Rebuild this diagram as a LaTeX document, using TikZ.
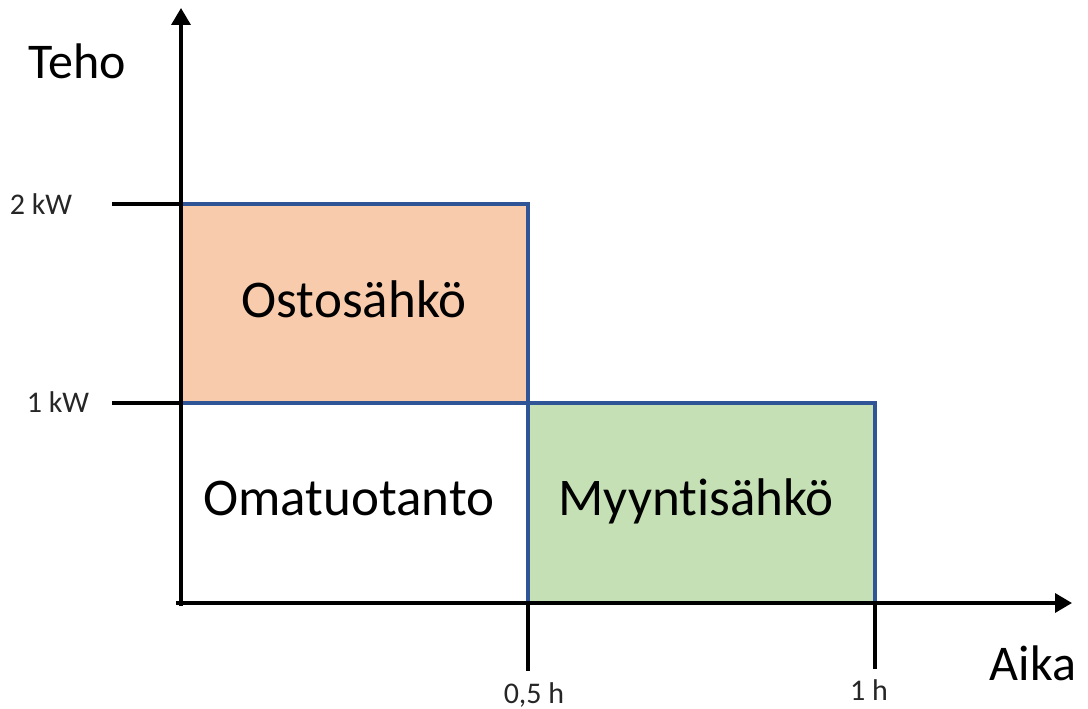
\documentclass[tikz,border=0pt]{standalone}
\usepackage{fontspec}
\setmainfont{Carlito}[Ligatures={NoCommon,NoContextual}]
\usetikzlibrary{arrows.meta}
\definecolor{boxblue}{HTML}{2F5597}
\definecolor{buyfill}{HTML}{F8CBAD}
\definecolor{sellfill}{HTML}{C5E0B4}
\tikzset{
  box/.style={draw=boxblue, line width=3.5pt},
  axis/.style={draw=black, line width=3.5pt, -{Triangle[length=17pt,width=19pt]}},
  tick/.style={draw=black, line width=3.5pt},
  big/.style={inner sep=0pt, anchor=base, font=\fontsize{53}{60}\selectfont},
  axlabel/.style={inner sep=0pt, anchor=base, font=\fontsize{50}{58}\selectfont},
  small/.style={inner sep=0pt, anchor=base, font=\fontsize{30}{36}\selectfont, text=black!85}
}
\begin{document}
\begin{tikzpicture}[x=1pt,y=-1pt]
\useasboundingbox (0,0) rectangle (1088,709);
% coordinates
\coordinate (ytop) at (181,8);
\coordinate (ybot) at (181,606);
\coordinate (xleft) at (176,603);
\coordinate (xright) at (1072,603);
% boxes
\path[box, fill=buyfill] (181,204) rectangle (528,403);
\path[box, fill=white] (181,403) rectangle (528,603);
\path[box, fill=sellfill] (528,403) rectangle (875,603);
% ticks
\coordinate (t2a) at (112,204); \coordinate (t2b) at (181,204);
\coordinate (t1a) at (112,403); \coordinate (t1b) at (181,403);
\coordinate (th5a) at (528,603); \coordinate (th5b) at (528,671);
\coordinate (th1a) at (875,603); \coordinate (th1b) at (875,669);
\draw[tick] (t2a) -- (t2b);
\draw[tick] (t1a) -- (t1b);
\draw[tick] (th5a) -- (th5b);
\draw[tick] (th1a) -- (th1b);
% axes
\draw[axis] (ybot) -- (ytop);
\draw[axis] (xleft) -- (xright);
% labels
\node[big] (osto) at (354,317) {Ostosähkö};
\node[big] (oma) at (349,515) {Omatuotanto};
\node[big] (myynti) at (696,515) {Myyntisähkö};
\node[axlabel] (teho) at (77,79) {Teho};
\node[axlabel] (aika) at (1033,680) {Aika};
\node[small] (kw2) at (41,214) {2 kW};
\node[small] (kw1) at (58,412) {1 kW};
\node[small] (h05) at (534,703) {0,5 h};
\node[small] (h1) at (869,700) {1 h};
\end{tikzpicture}
\end{document}
